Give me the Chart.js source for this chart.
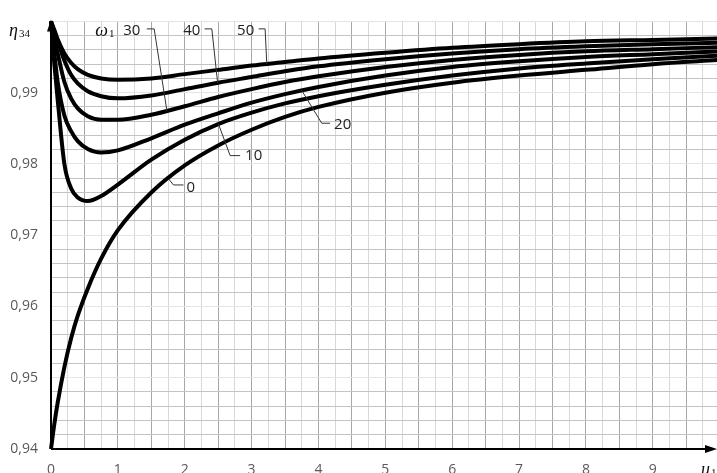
<!DOCTYPE html>
<html>
<head>
<meta charset="utf-8">
<script src="https://cdn.jsdelivr.net/npm/chart.js@4.4.0/dist/chart.umd.min.js"></script>
<style>
  html, body { margin: 0; padding: 0; overflow: hidden; background: #fff; }
  #wrap { width: 717px; height: 473px; overflow: hidden; }
</style>
</head>
<body>
<div id="wrap"><canvas id="chart" width="717" height="482"></canvas></div>
<script>
const uValues = [0, 0.05, 0.1, 0.2, 0.3, 0.4, 0.55, 0.75, 1, 1.5, 2, 2.5, 3, 3.5, 4, 5, 6, 7, 8, 9, 10];

// eta34 for every omega1
const eta0  = [0.940, 0.9435, 0.9465, 0.9515, 0.9555, 0.9587, 0.9625, 0.9667, 0.9707, 0.9760, 0.9798, 0.9826, 0.9848, 0.9866, 0.9880, 0.9900, 0.9914, 0.9924, 0.9932, 0.9940, 0.9946];
const eta10 = [1.000, 0.9940, 0.9890, 0.9800, 0.9766, 0.9753, 0.9748, 0.9755, 0.9771, 0.9806, 0.9834, 0.9856, 0.9872, 0.9885, 0.9895, 0.9911, 0.9924, 0.9934, 0.9941, 0.9947, 0.9952];
const eta20 = [1.000, 0.9955, 0.9915, 0.9868, 0.9846, 0.9832, 0.9821, 0.9816, 0.9819, 0.9836, 0.9855, 0.9871, 0.9886, 0.9898, 0.9908, 0.9924, 0.9936, 0.9944, 0.9950, 0.9954, 0.9958];
const eta30 = [1.000, 0.9975, 0.9955, 0.9915, 0.9892, 0.9878, 0.9867, 0.9862, 0.9862, 0.9869, 0.9881, 0.9894, 0.9905, 0.9915, 0.9923, 0.9936, 0.9946, 0.9953, 0.9958, 0.9961, 0.9964];
const eta40 = [1.000, 0.9985, 0.9972, 0.9945, 0.9925, 0.9913, 0.9902, 0.9895, 0.9892, 0.9896, 0.9905, 0.9914, 0.9922, 0.9930, 0.9937, 0.9947, 0.9955, 0.9961, 0.9965, 0.9968, 0.9970];
const eta50 = [1.000, 0.9988, 0.9975, 0.9955, 0.9942, 0.9933, 0.9925, 0.9920, 0.9918, 0.9920, 0.9926, 0.9932, 0.9938, 0.9943, 0.9948, 0.9956, 0.9963, 0.9968, 0.9972, 0.9974, 0.9976];

const omegaLabels = ['0', '10', '20', '30', '40', '50'];
const etaSeries = [eta0, eta10, eta20, eta30, eta40, eta50];

const xTickValues = [0, 1, 2, 3, 4, 5, 6, 7, 8, 9];
const xTickLabels = ['0', '1', '2', '3', '4', '5', '6', '7', '8', '9'];
const yTickValues = [0.94, 0.95, 0.96, 0.97, 0.98, 0.99];
const yTickLabels = ['0,94', '0,95', '0,96', '0,97', '0,98', '0,99'];

// where the curve labels and their leader lines sit (data units)
const labelLayout = [
  { series: 0, at: 1.756, path: [[1.831, 0.97705], [1.981, 0.97705]], text: [2.028, 0.97671] },
  { series: 1, at: 2.504, path: [[2.679, 0.98117], [2.828, 0.98117]], text: [2.903, 0.98113] },
  { series: 2, at: 3.750, path: [[4.049, 0.98571], [4.173, 0.98571]], text: [4.233, 0.98548] },
  { series: 3, at: 1.733, path: [[1.543, 0.99895], [1.433, 0.99895]], text: [1.079, 0.99867] },
  { series: 4, at: 2.492, path: [[2.405, 0.99895], [2.297, 0.99895]], text: [1.976, 0.99867] },
  { series: 5, at: 3.227, path: [[3.202, 0.99895], [3.105, 0.99895]], text: [2.783, 0.99867] }
];

function etaAt(series, u) {
  for (let i = 1; i < uValues.length; i++) {
    if (u <= uValues[i]) {
      const t = (u - uValues[i - 1]) / (uValues[i] - uValues[i - 1]);
      return series[i - 1] + t * (series[i] - series[i - 1]);
    }
  }
  return series[series.length - 1];
}

function near(a, b) { return Math.abs(a - b) < 1e-6; }

function drawSub(ctx, main, sub, px, py) {
  ctx.font = 'italic 18px "Liberation Serif"';
  ctx.textAlign = 'left';
  ctx.textBaseline = 'alphabetic';
  ctx.fillText(main, px, py);
  const w = ctx.measureText(main).width;
  ctx.font = '11px "Liberation Serif"';
  ctx.fillText(sub, px + w + 1, py + 1);
}

const decor = {
  id: 'decor',
  afterDraw(chart) {
    const { ctx, chartArea: a, scales: { x, y } } = chart;
    ctx.save();
    // axes with arrows
    ctx.strokeStyle = '#000';
    ctx.fillStyle = '#000';
    ctx.lineWidth = 2;
    ctx.beginPath();
    ctx.moveTo(a.left, a.bottom);
    ctx.lineTo(a.left, a.top + 4);
    ctx.moveTo(a.left, a.bottom);
    ctx.lineTo(a.right - 4, a.bottom);
    ctx.stroke();
    ctx.beginPath();
    ctx.moveTo(a.left, a.top - 2);
    ctx.lineTo(a.left - 4, a.top + 10);
    ctx.lineTo(a.left + 4, a.top + 10);
    ctx.closePath();
    ctx.fill();
    ctx.beginPath();
    ctx.moveTo(a.right, a.bottom);
    ctx.lineTo(a.right - 12, a.bottom - 4);
    ctx.lineTo(a.right - 12, a.bottom + 4);
    ctx.closePath();
    ctx.fill();

    // leader lines and curve labels
    ctx.lineWidth = 1;
    ctx.strokeStyle = '#333';
    labelLayout.forEach(l => {
      ctx.beginPath();
      ctx.moveTo(x.getPixelForValue(l.at), y.getPixelForValue(etaAt(etaSeries[l.series], l.at)));
      l.path.forEach(p => ctx.lineTo(x.getPixelForValue(p[0]), y.getPixelForValue(p[1])));
      ctx.stroke();
      ctx.font = '15px "Open Sans"';
      ctx.textAlign = 'left';
      ctx.textBaseline = 'middle';
      ctx.fillStyle = '#222';
      ctx.fillText(omegaLabels[l.series], x.getPixelForValue(l.text[0]), y.getPixelForValue(l.text[1]));
    });

    // axis symbols
    ctx.fillStyle = '#111';
    drawSub(ctx, 'ω', '1', x.getPixelForValue(0.661), y.getPixelForValue(0.99867) + 5);
    drawSub(ctx, 'η', '34', 9, y.getPixelForValue(0.99867) + 5);
    drawSub(ctx, 'u', '1', 701, a.bottom + 26);
    ctx.restore();
  }
};

new Chart(document.getElementById('chart'), {
  type: 'line',
  data: {
    datasets: etaSeries.map((s, i) => ({
      label: omegaLabels[i],
      data: uValues.map((u, j) => ({ x: u, y: s[j] })),
      borderColor: '#000',
      borderWidth: 4,
      pointRadius: 0,
      cubicInterpolationMode: 'monotone',
      clip: 6
    }))
  },
  options: {
    responsive: false,
    animation: false,
    layout: { padding: { top: 8, right: 0, left: 0, bottom: 0 } },
    plugins: { legend: { display: false }, tooltip: { enabled: false } },
    scales: {
      x: {
        type: 'linear',
        min: 0,
        max: 9.96,
        afterFit(scale) { scale.height = 33; },
        border: { display: false },
        grid: {
          drawTicks: false,
          color(c) {
            if (!c.tick) return 'rgba(0,0,0,0)';
            const v = c.tick.value;
            if (near(v * 2, Math.round(v * 2))) return '#a6a6a6';
            return '#d9d9d9';
          }
        },
        ticks: {
          stepSize: 0.25,
          includeBounds: false,
          autoSkip: false,
          maxRotation: 0,
          padding: 13,
          color: '#595959',
          font: { family: 'Open Sans', size: 14 },
          callback(v) {
            const i = xTickValues.findIndex(t => near(t, v));
            return i >= 0 ? xTickLabels[i] : '';
          }
        }
      },
      y: {
        min: 0.94,
        max: 1.0,
        afterFit(scale) { scale.width = 51; },
        border: { display: false },
        grid: {
          drawTicks: false,
          color(c) {
            if (!c.tick) return 'rgba(0,0,0,0)';
            const v = c.tick.value;
            return near(v * 100, Math.round(v * 100)) ? '#e4e4e4' : '#c3c3c3';
          }
        },
        ticks: {
          stepSize: 0.002,
          autoSkip: false,
          padding: 13,
          color: '#595959',
          font: { family: 'Open Sans', size: 14 },
          callback(v) {
            const i = yTickValues.findIndex(t => near(t, v));
            return i >= 0 ? yTickLabels[i] : '';
          }
        }
      }
    }
  },
  plugins: [decor]
});
</script>
</body>
</html>
